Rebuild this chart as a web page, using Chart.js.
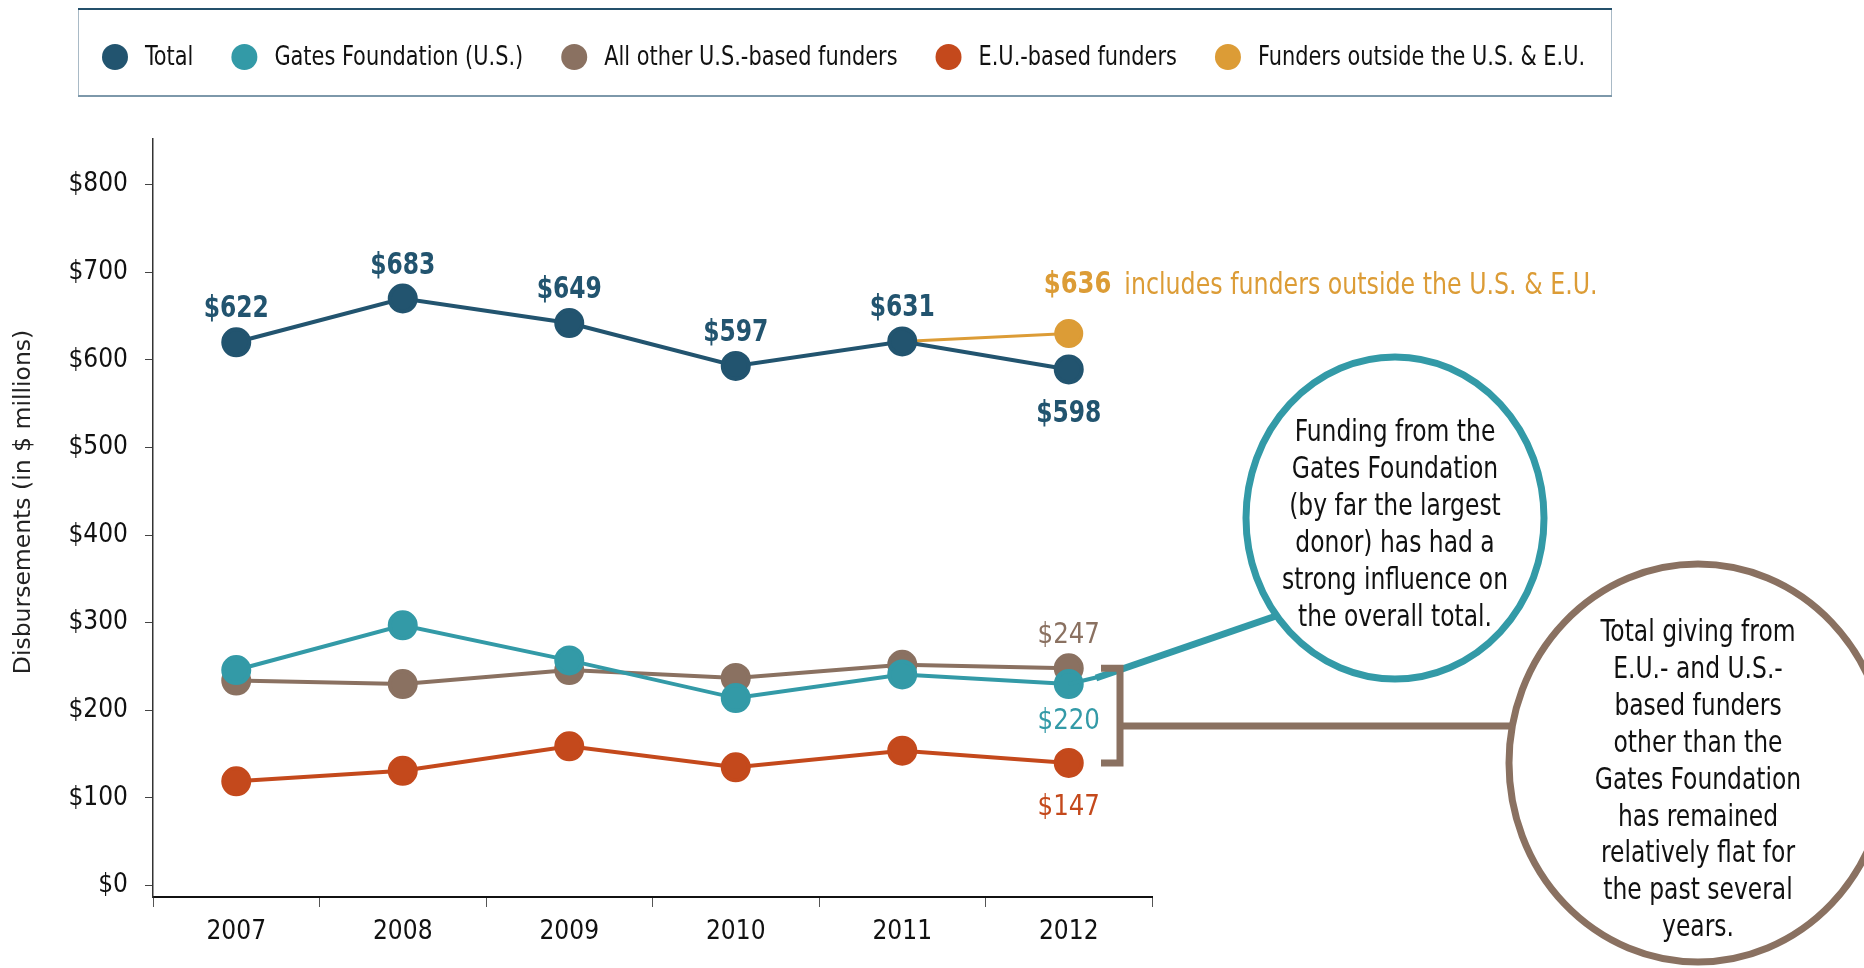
<!DOCTYPE html>
<html>
<head>
<meta charset="utf-8">
<script src="https://cdn.jsdelivr.net/npm/chart.js@4.4.1/dist/chart.umd.min.js"></script>
<style>
  html, body { margin: 0; padding: 0; background: #fff; }
</style>
</head>
<body>
<canvas id="fundingChart" width="1864" height="968"></canvas>
<script>
// data
const years = ['2007', '2008', '2009', '2010', '2011', '2012'];
const total = [620, 670, 642, 593, 621, 589];
const gates = [246, 297, 257, 214, 241, 230];
const otherUS = [234, 230, 246, 237, 252, 248];
const euFunders = [119, 131, 159, 135, 154, 140];
const outside = [null, null, null, null, 621, 630];

const totalLabels = ['$622', '$683', '$649', '$597', '$631', '$598'];
const gatesLabel = '$220';
const otherLabel = '$247';
const euLabel = '$147';
const outsideLabel = '$636';
const outsideNote = 'includes funders outside the U.S. & E.U.';

const yTicks = [0, 100, 200, 300, 400, 500, 600, 700, 800];

const gatesNote = ['Funding from the', 'Gates Foundation', '(by far the largest', 'donor) has had a',
    'strong influence on', 'the overall total.'];
const flatNote = ['Total giving from', 'E.U.- and U.S.-', 'based funders', 'other than the',
    'Gates Foundation', 'has remained', 'relatively flat for', 'the past several', 'years.'];

const NARROW = "'DejaVu Sans Condensed', 'DejaVu Sans', sans-serif";
const C_TOTAL = '#22546f';
const C_GATES = '#339aa7';
const C_OTHER = '#8a7161';
const C_EU = '#c4491c';
const C_OUT = '#dc9c36';

// text squeezed sideways, the original face is narrower than anything installed
function squeeze(ctx, text, x, y, sx, align) {
    ctx.save();
    ctx.translate(x, y);
    ctx.scale(sx, 1);
    ctx.textAlign = align || 'center';
    ctx.fillText(text, 0, 0);
    ctx.restore();
    return ctx.measureText(text).width * sx;
}

/*
 * legend box, axis title, value labels and callouts
 */
const decorations = {
    id: 'decorations',
    afterDraw(chart) {
        const ctx = chart.ctx;
        ctx.save();
        ctx.textBaseline = 'middle';

        // legend box
        ctx.fillStyle = '#fff';
        ctx.fillRect(78, 9, 1534, 87);
        ctx.strokeStyle = '#a9bac6';
        ctx.lineWidth = 1;
        ctx.beginPath();
        ctx.moveTo(78.5, 9); ctx.lineTo(78.5, 96);
        ctx.moveTo(1611.5, 9); ctx.lineTo(1611.5, 96);
        ctx.stroke();
        ctx.strokeStyle = '#24506b';
        ctx.lineWidth = 2;
        ctx.beginPath(); ctx.moveTo(78, 9); ctx.lineTo(1612, 9); ctx.stroke();
        ctx.strokeStyle = '#7d98aa';
        ctx.beginPath(); ctx.moveTo(78, 96); ctx.lineTo(1612, 96); ctx.stroke();

        ctx.font = '27px ' + NARROW;
        let cx = 115;
        chart.data.datasets.forEach(ds => {
            ctx.fillStyle = ds.borderColor;
            ctx.beginPath();
            ctx.arc(cx, 57, 13, 0, Math.PI * 2);
            ctx.fill();
            ctx.fillStyle = '#111';
            const w = squeeze(ctx, ds.label, cx + 30, 58, 0.86, 'left');
            cx += 30 + w + 51;
        });

        // y axis title
        ctx.save();
        ctx.translate(24, 502);
        ctx.rotate(-Math.PI / 2);
        ctx.textAlign = 'center';
        ctx.fillStyle = '#222';
        ctx.font = '23.5px "DejaVu Sans"';
        ctx.fillText('Disbursements (in $ millions)', 0, 0);
        ctx.restore();

        // total value labels
        const totPts = chart.getDatasetMeta(0).data;
        ctx.fillStyle = C_TOTAL;
        ctx.font = 'bold 31px ' + NARROW;
        totPts.forEach((p, i) => {
            const dy = i === totPts.length - 1 ? 44 : -33;
            squeeze(ctx, totalLabels[i], p.x, p.y + dy, 0.84);
        });

        const last = years.length - 1;
        const gP = chart.getDatasetMeta(1).data[last];
        const oP = chart.getDatasetMeta(2).data[last];
        const eP = chart.getDatasetMeta(3).data[last];
        const xP = chart.getDatasetMeta(4).data[last];

        ctx.font = '29px ' + NARROW;
        ctx.fillStyle = C_OTHER;
        squeeze(ctx, otherLabel, oP.x, oP.y - 33, 0.94);
        ctx.fillStyle = C_GATES;
        squeeze(ctx, gatesLabel, gP.x, gP.y + 37, 0.94);
        ctx.fillStyle = C_EU;
        squeeze(ctx, euLabel, eP.x, eP.y + 45, 0.94);

        // outside note
        ctx.fillStyle = C_OUT;
        ctx.font = 'bold 30px ' + NARROW;
        const ox = xP.x - 25;
        const w = squeeze(ctx, outsideLabel, ox, xP.y - 48, 0.9, 'left');
        ctx.font = '31px ' + NARROW;
        squeeze(ctx, outsideNote, ox + w + 13, xP.y - 48, 0.85, 'left');

        // teal connector
        ctx.strokeStyle = C_GATES;
        ctx.lineCap = 'butt';
        ctx.lineWidth = 4;
        ctx.beginPath();
        ctx.moveTo(gP.x, gP.y);
        ctx.lineTo(1098, 677);
        ctx.stroke();
        ctx.lineWidth = 7;
        ctx.beginPath();
        ctx.moveTo(1096, 678);
        ctx.lineTo(1276, 616);
        ctx.stroke();

        // brown bracket
        ctx.strokeStyle = C_OTHER;
        ctx.lineWidth = 7;
        ctx.lineJoin = 'miter';
        ctx.beginPath();
        ctx.moveTo(1101, oP.y);
        ctx.lineTo(1120, oP.y);
        ctx.lineTo(1120, eP.y);
        ctx.lineTo(1101, eP.y);
        ctx.stroke();
        ctx.beginPath();
        ctx.moveTo(1120, 726);
        ctx.lineTo(1512, 726);
        ctx.stroke();

        // callout circles
        const bubble = (x, y, rx, ry, color, lines, top, step) => {
            ctx.beginPath();
            ctx.ellipse(x, y, rx, ry, 0, 0, Math.PI * 2);
            ctx.fillStyle = '#fff';
            ctx.fill();
            ctx.lineWidth = 7;
            ctx.strokeStyle = color;
            ctx.stroke();
            ctx.fillStyle = '#111';
            ctx.font = '31px ' + NARROW;
            lines.forEach((t, i) => squeeze(ctx, t, x, top + i * step, 0.84));
        };
        bubble(1395, 518, 149, 161, C_GATES, gatesNote, 433, 37);
        bubble(1698, 763, 189, 199, C_OTHER, flatNote, 633, 36.9);

        ctx.restore();
    }
};

const tickFont = { family: NARROW, size: 26 };

new Chart(document.getElementById('fundingChart'), {
    type: 'line',
    plugins: [decorations],
    data: {
        labels: years,
        datasets: [
            { label: 'Total', data: total, borderColor: C_TOTAL, backgroundColor: C_TOTAL, borderWidth: 4 },
            { label: 'Gates Foundation (U.S.)', data: gates, borderColor: C_GATES, backgroundColor: C_GATES, borderWidth: 4 },
            { label: 'All other U.S.-based funders', data: otherUS, borderColor: C_OTHER, backgroundColor: C_OTHER, borderWidth: 4 },
            { label: 'E.U.-based funders', data: euFunders, borderColor: C_EU, backgroundColor: C_EU, borderWidth: 4 },
            {
                label: 'Funders outside the U.S. & E.U.', data: outside, borderColor: C_OUT, backgroundColor: C_OUT,
                borderWidth: 3, pointRadius: [0, 0, 0, 0, 0, 13]
            }
        ]
    },
    options: {
        responsive: false,
        animation: false,
        devicePixelRatio: 1,
        spanGaps: false,
        elements: {
            point: { radius: 13, borderWidth: 0, hoverRadius: 13 },
            line: { tension: 0 }
        },
        layout: { padding: { left: 0, top: 139, right: 712, bottom: 0 } },
        plugins: {
            legend: { display: false },
            tooltip: { enabled: false }
        },
        scales: {
            x: {
                offset: true,
                grid: { drawOnChartArea: false, offset: true, tickLength: 10, color: '#555' },
                border: { color: '#111', width: 2 },
                ticks: { font: tickFont, color: '#111', padding: 10 },
                afterFit(scale) { scale.height = 71; }
            },
            y: {
                min: -13,
                max: 852,
                afterBuildTicks(scale) { scale.ticks = yTicks.map(v => ({ value: v })); },
                grid: { drawOnChartArea: false, tickLength: 8, color: '#444' },
                border: { color: '#333', width: 1.5 },
                ticks: { font: tickFont, color: '#111', padding: 17, callback: v => '$' + v },
                afterFit(scale) { scale.width = 153; }
            }
        }
    }
});
</script>
</body>
</html>
